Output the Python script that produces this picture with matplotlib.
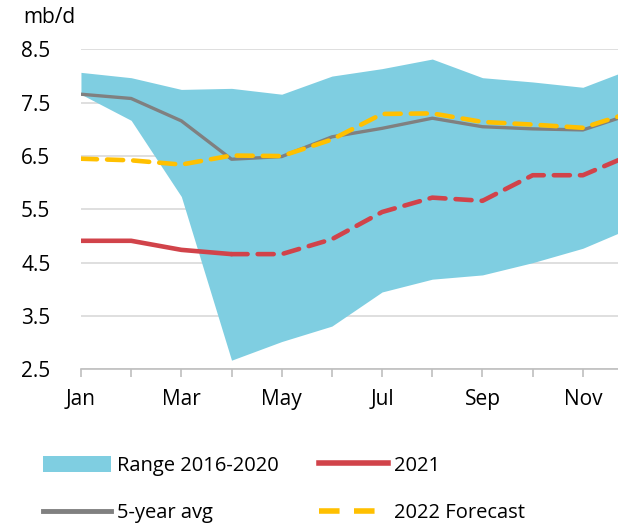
import matplotlib.pyplot as plt
from matplotlib.patches import Patch
from matplotlib.lines import Line2D

plt.rcParams['font.family'] = ['Open Sans', 'DejaVu Sans']

months = ['Jan', 'Feb', 'Mar', 'Apr', 'May', 'Jun', 'Jul', 'Aug', 'Sep', 'Oct', 'Nov', 'Dec']
range_hi = [8.07, 7.97, 7.75, 7.77, 7.66, 8.00, 8.14, 8.32, 7.97, 7.89, 7.79, 8.15]
range_lo = [7.66, 7.17, 5.74, 2.67, 3.02, 3.31, 3.95, 4.19, 4.27, 4.50, 4.77, 5.17]
avg5 = [7.66, 7.58, 7.16, 6.44, 6.49, 6.86, 7.02, 7.21, 7.05, 7.01, 6.99, 7.30]
y2021 = [4.91, 4.91, 4.74, 4.66, 4.66, 4.94, 5.45, 5.72, 5.66, 6.14, 6.14, 6.54]
fc2022 = [6.45, 6.42, 6.34, 6.51, 6.50, 6.81, 7.29, 7.30, 7.14, 7.09, 7.03, 7.33]
n_actual = 4  # 2021 solid up to Apr

x = list(range(len(months)))
blue = '#7FCEE1'
red = '#D1434A'
grey = '#808080'
yellow = '#FFC000'

fig = plt.figure(figsize=(6.18, 5.26), dpi=100)
ax = fig.add_axes([0.131, 0.298, 0.869, 0.608])

ax.fill_between(x, range_lo, range_hi, color=blue, lw=0, zorder=1)
ax.plot(x, avg5, color=grey, lw=2.4, zorder=3)
ax.plot(x[:n_actual], y2021[:n_actual], color=red, lw=3.3, zorder=4, solid_capstyle='round')
ax.plot(x[n_actual - 1:], y2021[n_actual - 1:], color=red, lw=3.3, zorder=4,
        dashes=(3.5, 2.2), dash_capstyle='round')
ax.plot(x, fc2022, color=yellow, lw=3.3, zorder=5, dashes=(3.5, 2.2), dash_capstyle='round')

ax.set_yticks([2.5, 3.5, 4.5, 5.5, 6.5, 7.5, 8.5])
ax.set_yticklabels(['2.5', '3.5', '4.5', '5.5', '6.5', '7.5', '8.5'])
ax.set_xticks(x)
ax.set_xticklabels([m if i % 2 == 0 else '' for i, m in enumerate(months)])
ax.set_xlim(0, 10.7)
ax.set_ylim(2.5, 8.5)
ax.grid(axis='y', color='#D9D9D9', lw=1.2, zorder=0)
ax.set_axisbelow(True)
for s in ['top', 'right', 'left']:
    ax.spines[s].set_visible(False)
ax.spines['bottom'].set_color('#BFBFBF')
ax.spines['bottom'].set_linewidth(1.2)
ax.tick_params(axis='y', length=0, pad=22, labelsize=15)
ax.tick_params(axis='x', length=6, width=1.2, color='#BFBFBF', pad=8, labelsize=15)

fig.text(0.038, 0.967, 'mb/d', fontsize=15, va='center', ha='left')

handles = [
    Patch(facecolor=blue, edgecolor='none'),
    Line2D([], [], color=grey, lw=3.5),
    Line2D([], [], color=red, lw=4),
    Line2D([], [], color=yellow, lw=4, dashes=(3.7, 2.6), dash_capstyle='butt'),
]
labels = ['Range 2016-2020', '5-year avg', '2021', '2022 Forecast']
fig.legend(handles, labels, loc='lower left', bbox_to_anchor=(0.04, -0.029), ncol=2,
           frameon=False, fontsize=14.5, handlelength=3.4, handleheight=0.85,
           handletextpad=0.3, columnspacing=2.0, labelspacing=1.35)

fig.savefig('out.png', dpi=100)
